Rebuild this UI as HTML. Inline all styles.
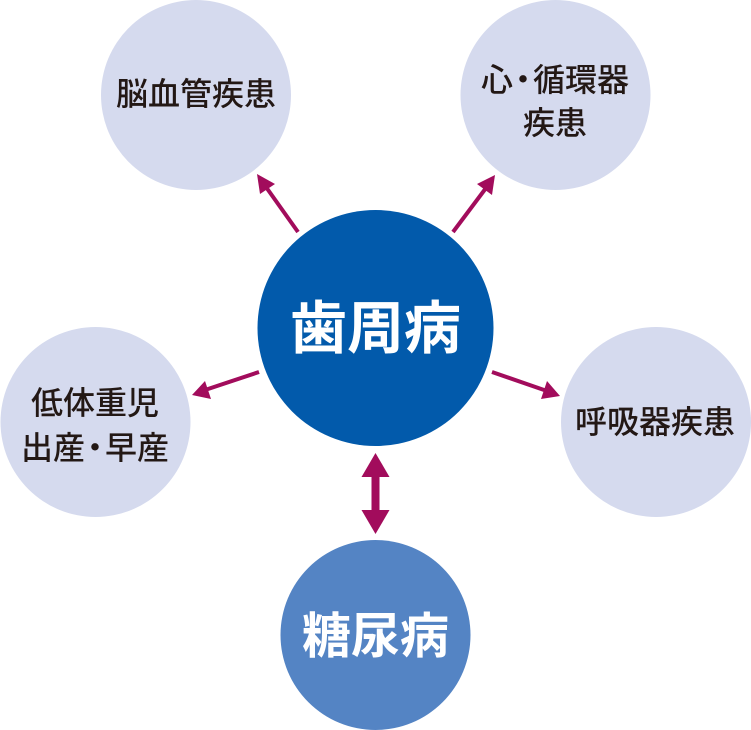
<!DOCTYPE html>
<html><head><meta charset="utf-8"><style>
html,body{margin:0;padding:0;background:#fff;}
svg{display:block;}
text{font-family:"Liberation Sans","Noto Sans CJK JP",sans-serif;}
</style></head><body>
<svg width="751" height="730" viewBox="0 0 751 730" xmlns="http://www.w3.org/2000/svg">
<defs>
<marker id="ah" markerWidth="8" markerHeight="8" refX="6" refY="4" orient="auto" markerUnits="userSpaceOnUse" viewBox="0 0 8 8">
</marker>
</defs>
<g fill="#d5daee">
<circle cx="196" cy="95" r="95"/>
<circle cx="555.5" cy="95" r="95"/>
<circle cx="95.5" cy="422" r="95"/>
<circle cx="656" cy="422" r="95"/>
</g>
<circle cx="375.5" cy="328" r="118" fill="#025aab"/>
<circle cx="375.5" cy="635" r="95" fill="#5484c4"/>

<g stroke="#a20c5c" stroke-width="4" fill="#a20c5c">
<line x1="298" y1="232" x2="266" y2="187"/>
<line x1="453" y1="232" x2="486" y2="188"/>
<line x1="259" y1="372" x2="205" y2="390"/>
<line x1="492" y1="372" x2="547" y2="391"/>
</g>
<g fill="#a20c5c">
<polygon points="257,174 275,184 260,194"/>
<polygon points="495,175 492,195 477,184"/>
<polygon points="192,395 205,381 211,399"/>
<polygon points="560,396 541,399 547,381"/>
<rect x="371.5" y="474" width="8" height="40"/>
<polygon points="375.5,453 361.5,477 389.5,477"/>
<polygon points="375.5,534 361.5,510 389.5,510"/>
</g>

<g font-size="32" font-weight="500" fill="#231815" text-anchor="middle">
<text x="196" y="105">脳血管疾患</text>
<text x="555" y="91">心<tspan dx="-6">・</tspan><tspan dx="-6">循環器</tspan></text>
<text x="555" y="134">疾患</text>
<text x="95" y="414">低体重児</text>
<text x="95" y="459">出産<tspan dx="-6">・</tspan><tspan dx="-6">早産</tspan></text>
<text x="655" y="433">呼吸器疾患</text>
</g>
<text x="375.5" y="348" font-size="57" font-weight="bold" fill="#fff" text-anchor="middle">歯周病</text>
<text x="375.5" y="653" font-size="49" font-weight="bold" fill="#fff" text-anchor="middle">糖尿病</text>
</svg>
</body></html>
